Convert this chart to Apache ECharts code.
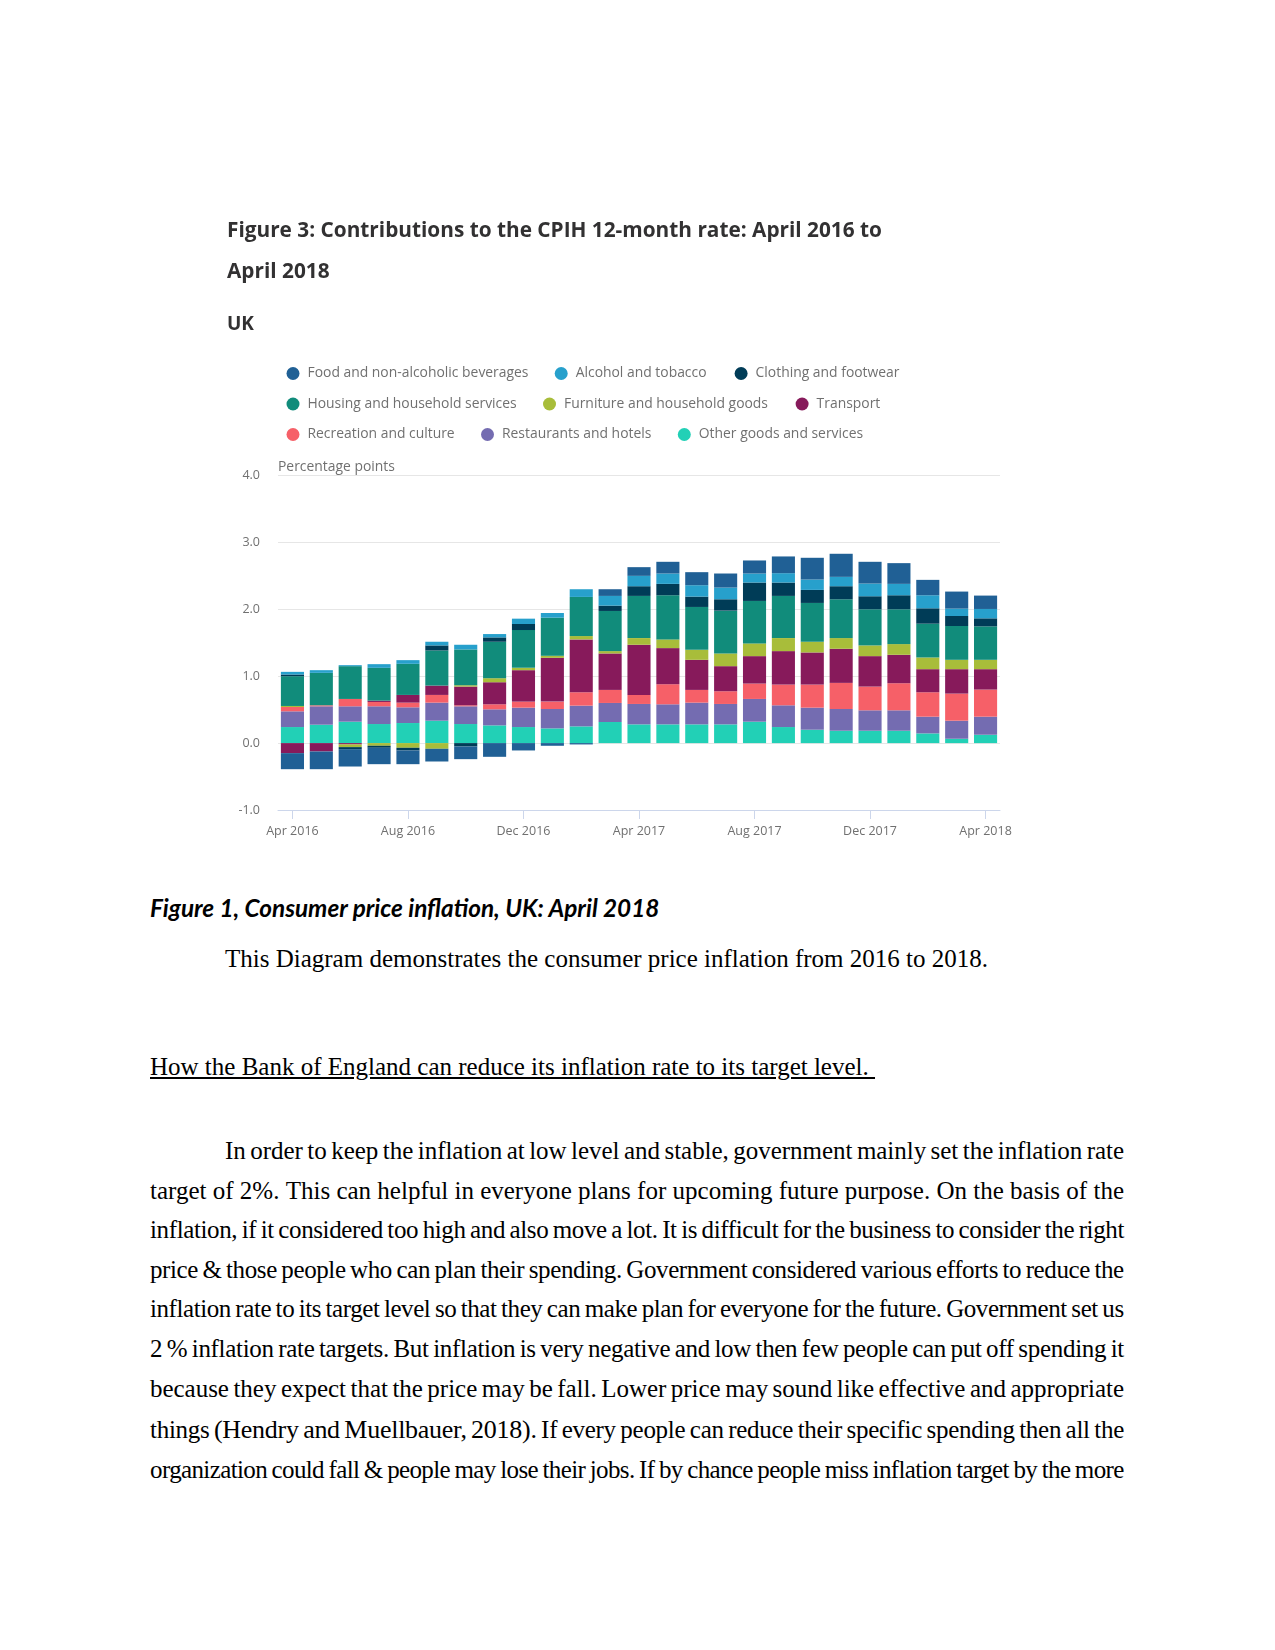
<!DOCTYPE html>
<html>
<head>
<meta charset="utf-8">
<script src="https://cdn.jsdelivr.net/npm/echarts@6/dist/echarts.min.js"></script>
<style>
  html, body { margin: 0; padding: 0; background: #ffffff; }
  body { width: 1275px; height: 1650px; position: relative; overflow: hidden; }
  #chart { position: absolute; left: 0; top: 0; width: 1275px; height: 860px; }
  .t { position: absolute; font-family: "Liberation Serif", "Times New Roman", serif; font-size: 25px; color: #000; line-height: 40px; white-space: nowrap; }
  .cap { position: absolute; left: 150px; top: 893px; font-family: Lato, sans-serif; font-weight: bold; font-style: italic; font-size: 24.3px; line-height: 30px; color: #000; white-space: nowrap; }
  .jl { position: absolute; left: 150px; width: 974px; height: 40px; font-family: "Liberation Serif", "Times New Roman", serif; font-size: 25px; line-height: 40px; color: #000; white-space: nowrap; display: flex; justify-content: space-between; }
  .jl.first { left: 225px; width: 899px; }
  .jl span { display: inline-block; white-space: nowrap; }
  .cite { font-size: 26px; }
</style>
</head>
<body>
<div id="chart"></div>

<div class="cap">Figure 1, Consumer price inflation, UK: April 2018</div>
<div class="t" style="left:225px; top:939px;">This Diagram demonstrates the consumer price inflation from 2016 to 2018.</div>
<div class="t" style="left:150px; top:1047px;"><u>How the Bank of England can reduce its inflation rate to its target level.&nbsp;</u></div>
<div id="para"></div>

<script>
// ---- Data ----
const months = ['Apr 2016','May 2016','Jun 2016','Jul 2016','Aug 2016','Sep 2016','Oct 2016','Nov 2016',
  'Dec 2016','Jan 2017','Feb 2017','Mar 2017','Apr 2017','May 2017','Jun 2017','Jul 2017','Aug 2017',
  'Sep 2017','Oct 2017','Nov 2017','Dec 2017','Jan 2018','Feb 2018','Mar 2018','Apr 2018'];

const seriesNames = ['Food and non-alcoholic beverages','Alcohol and tobacco','Clothing and footwear',
  'Housing and household services','Furniture and household goods','Transport',
  'Recreation and culture','Restaurants and hotels','Other goods and services'];

const seriesColors = ['#206095','#27a0cc','#003c57','#118c7b','#a8bd3a','#871a5b','#f66068','#746cb1','#22d0b6'];

const food = [-0.24,-0.265,-0.26,-0.245,-0.205,-0.19,-0.19,-0.205,-0.11,-0.04,-0.02,0.10,0.13,0.175,0.195,0.21,0.195,0.25,0.325,0.345,0.325,0.31,0.23,0.255,0.20];
const alcohol = [0.04,0.04,0.015,0.055,0.055,0.055,0.07,0.05,0.08,0.07,0.115,0.145,0.155,0.155,0.17,0.175,0.135,0.14,0.155,0.14,0.19,0.17,0.195,0.11,0.14];
const clothing = [0.025,0,-0.03,-0.03,-0.04,0.075,-0.05,0.065,0.09,0,0,0.08,0.145,0.17,0.155,0.17,0.275,0.2,0.195,0.195,0.195,0.21,0.23,0.15,0.12];
const housing = [0.445,0.485,0.49,0.49,0.465,0.525,0.535,0.545,0.565,0.57,0.585,0.6,0.63,0.66,0.64,0.64,0.635,0.63,0.58,0.58,0.54,0.52,0.505,0.505,0.5];
const furniture = [0.015,0,-0.04,-0.04,-0.07,-0.085,0.02,0.06,0.035,0.03,0.05,0.035,0.10,0.13,0.15,0.19,0.19,0.195,0.16,0.16,0.16,0.16,0.175,0.14,0.14];
const transport = [-0.15,-0.125,-0.02,0.02,0.115,0.14,0.28,0.33,0.47,0.655,0.79,0.545,0.75,0.54,0.45,0.375,0.41,0.50,0.48,0.51,0.455,0.425,0.345,0.365,0.305];
const recreation = [0.065,0.015,0.11,0.065,0.07,0.115,0.015,0.075,0.09,0.11,0.2,0.195,0.135,0.30,0.19,0.19,0.23,0.31,0.345,0.39,0.355,0.405,0.365,0.405,0.405];
const restaurants = [0.235,0.275,0.23,0.265,0.235,0.27,0.265,0.24,0.29,0.29,0.31,0.285,0.305,0.30,0.325,0.305,0.34,0.325,0.33,0.325,0.305,0.305,0.25,0.27,0.27];
const other = [0.24,0.275,0.32,0.285,0.30,0.335,0.285,0.265,0.24,0.22,0.25,0.315,0.28,0.28,0.28,0.28,0.32,0.24,0.20,0.185,0.185,0.185,0.145,0.065,0.125];

const yTicks = [-1, 0, 1, 2, 3, 4];

const titleText = 'Figure 3: Contributions to the CPIH 12-month rate: April 2016 to\nApril 2018';
const subTitleText = 'UK';
const yAxisTitle = 'Percentage points';

// ---- Document paragraph (one entry per printed line) ----
const paraLines = [
  'In order to keep the inflation at low level and stable, government mainly set the inflation rate',
  'target of 2%. This can helpful in everyone plans for upcoming future purpose. On the basis of the',
  'inflation, if it considered too high and also move a lot. It is difficult for the business to consider the right',
  'price & those people who can plan their spending. Government considered various efforts to reduce the',
  'inflation rate to its target level so that they can make plan for everyone for the future. Government set us',
  '2 % inflation rate targets. But inflation is very negative and low then few people can put off spending it',
  'because they expect that the price may be fall. Lower price may sound like effective and appropriate',
  'things (Hendry and Muellbauer, 2018). If every people can reduce their specific spending then all the',
  'organization could fall & people may lose their jobs. If by chance people miss inflation target by the more'
];
const paraTops = [1131, 1171, 1210, 1250, 1289, 1329, 1369, 1410, 1450];
const citationWords = ['(Hendry', 'and', 'Muellbauer,', '2018).'];

(function buildPara() {
  const host = document.getElementById('para');
  paraLines.forEach((line, i) => {
    const div = document.createElement('div');
    div.className = 'jl' + (i === 0 ? ' first' : '');
    div.style.top = paraTops[i] + 'px';
    const words = line.split(' ');
    const citeStart = words.indexOf('(Hendry');
    words.forEach((w, k) => {
      const s = document.createElement('span');
      s.textContent = w;
      if (citeStart >= 0 && k >= citeStart && k < citeStart + citationWords.length) s.className = 'cite';
      div.appendChild(s);
    });
    host.appendChild(div);
    // fit: if the words plus minimum gaps overflow, tighten letter spacing
    const spans = Array.from(div.children);
    const target = div.clientWidth;
    let sum = 0, chars = 0;
    spans.forEach(s => { sum += s.getBoundingClientRect().width; chars += s.textContent.length; });
    const minGap = 4.5;
    const need = sum + minGap * (spans.length - 1);
    if (need > target) {
      div.style.letterSpacing = (-(need - target) / chars).toFixed(3) + 'px';
    }
  });
})();

// ---- Chart ----
const valuesByName = {};
[food, alcohol, clothing, housing, furniture, transport, recreation, restaurants, other]
  .forEach((arr, i) => { valuesByName[seriesNames[i]] = arr; });

// stacking order: last legend entry at the bottom of the stack
const stackOrder = seriesNames.slice().reverse();
const series = stackOrder.map(name => ({
  name: name,
  type: 'bar',
  stack: 'total',
  barCategoryGap: '20%',
  color: seriesColors[seriesNames.indexOf(name)],
  itemStyle: { color: seriesColors[seriesNames.indexOf(name)] },
  emphasis: { disabled: true },
  data: valuesByName[name]
}));

const legendPos = [
  [296, 373.5], [564.2, 373.5], [744.1, 373.5],
  [296, 404.0], [552.5, 404.0], [805.1, 404.0],
  [296, 434.5], [490.5, 434.5], [687.3, 434.5]
];
const legends = seriesNames.map((name, i) => ({
  data: [name],
  left: legendPos[i][0] - 9.5,
  top: legendPos[i][1] - 8,
  padding: 0,
  icon: 'circle',
  itemWidth: 19,
  itemHeight: 13,
  selectedMode: false,
  textStyle: { fontFamily: 'Open Sans', fontSize: 13.9, color: '#707070', lineHeight: 16 }
}));

const chart = echarts.init(document.getElementById('chart'), null, { renderer: 'canvas' });
chart.setOption({
  animation: false,
  backgroundColor: '#ffffff',
  title: [
    { text: titleText, left: 227, top: 211, padding: 0,
      textStyle: { fontFamily: 'Open Sans', fontWeight: 'bold', fontSize: 20.8, lineHeight: 41, color: '#323132' } },
    { text: subTitleText, left: 227, top: 313, padding: 0,
      textStyle: { fontFamily: 'Open Sans', fontWeight: 'bold', fontSize: 19, lineHeight: 24, color: '#323132' } },
    { text: yAxisTitle, left: 278, top: 459, padding: 0,
      textStyle: { fontFamily: 'Open Sans', fontWeight: 'normal', fontSize: 13.9, lineHeight: 16, color: '#707070' } }
  ],
  legend: legends,
  grid: { left: 278, right: 275, top: 475.5, bottom: 50, containLabel: false },
  xAxis: {
    type: 'category',
    data: months,
    axisLine: { onZero: false, lineStyle: { color: '#ccd6eb', width: 1 } },
    axisTick: { show: true, alignWithLabel: true, interval: 3, length: 9, lineStyle: { color: '#ccd6eb' } },
    axisLabel: { interval: 3, margin: 15, fontFamily: 'Open Sans', fontSize: 12.5, color: '#707070' },
    splitLine: { show: false }
  },
  yAxis: {
    type: 'value',
    min: yTicks[0],
    max: yTicks[yTicks.length - 1],
    interval: 1,
    axisLine: { show: false },
    axisTick: { show: false },
    axisLabel: { margin: 18, fontFamily: 'Open Sans', fontSize: 12.5, color: '#707070',
      padding: [8, 0, 0, 0], formatter: v => v.toFixed(1) },
    splitLine: { lineStyle: { color: '#e6e6e6', width: 1 } }
  },
  series: series
});
</script>
</body>
</html>
